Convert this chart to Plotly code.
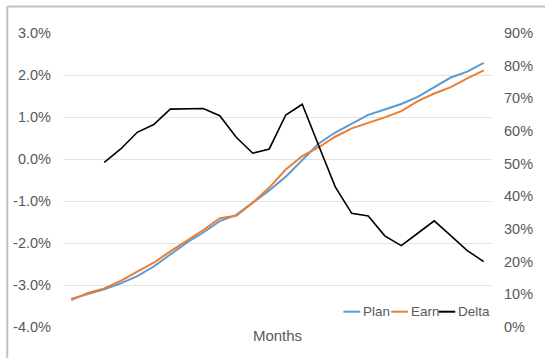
import plotly.graph_objects as go

# Monthly series: Plan and Earn on the left axis (%), Delta on the right axis (%)
months = list(range(1, 27))
plan = [-3.33, -3.21, -3.10, -2.96, -2.79, -2.56, -2.28, -1.99, -1.75, -1.48,
        -1.33, -1.04, -0.75, -0.42, -0.02, 0.37, 0.63, 0.83, 1.05, 1.18,
        1.31, 1.48, 1.71, 1.94, 2.08, 2.29]
earn = [-3.36, -3.19, -3.08, -2.90, -2.68, -2.47, -2.20, -1.95, -1.69, -1.41,
        -1.35, -1.04, -0.68, -0.25, 0.07, 0.28, 0.53, 0.73, 0.86, 0.99,
        1.14, 1.38, 1.56, 1.71, 1.92, 2.11]
delta = [None, None, 50.4, 54.5, 59.6, 62.0, 66.7, 66.7, 66.9, 64.7,
         58.1, 53.2, 54.5, 64.9, 68.2, 55.5, 42.9, 34.8, 34.0, 27.9,
         24.9, 28.7, 32.5, 28.0, 23.4, 20.0]

left_ticks = [-4, -3, -2, -1, 0, 1, 2, 3]
right_ticks = [0, 10, 20, 30, 40, 50, 60, 70, 80, 90]

series_names = ["Plan", "Earn", "Delta"]
series_colors = ["#5B9BD5", "#ED7D31", "#000000"]

W, H = 545, 358
L, R, T, B = 63, 47, 33, 31
pw, ph = W - L - R, H - T - B

def px_x(x):
    return (x - L) / pw

def px_y(y):
    return (H - B - y) / ph

fig = go.Figure()
fig.add_trace(go.Scatter(x=months, y=plan, name=series_names[0], mode="lines",
                         line=dict(color=series_colors[0], width=2)))
fig.add_trace(go.Scatter(x=months, y=earn, name=series_names[1], mode="lines",
                         line=dict(color=series_colors[1], width=2)))
fig.add_trace(go.Scatter(x=months, y=delta, name=series_names[2], mode="lines",
                         line=dict(color=series_colors[2], width=1.6),
                         yaxis="y2", connectgaps=False))

family = "Arial, Liberation Sans, sans-serif"
font = dict(family=family, size=13, color="#595959")
tick_font = dict(family=family, size=14.5, color="#595959")
title_font = dict(family=family, size=15, color="#595959")

# Legend drawn as short line keys with labels, bottom right of the plot
shapes = []
annotations = []
key_pos = [(347.3, 364.3, 365.0), (395.7, 412.7, 413.5), (444.0, 460.7, 461.8)]
ly = 311.7
for (x0, x1, tx), name, col in zip(key_pos, series_names, series_colors):
    shapes.append(dict(type="line", xref="paper", yref="paper",
                       x0=px_x(x0), x1=px_x(x1), y0=px_y(ly), y1=px_y(ly),
                       line=dict(color=col, width=2)))
    annotations.append(dict(text=name, xref="paper", yref="paper",
                            x=px_x(tx), y=px_y(ly), xanchor="left", yanchor="middle",
                            showarrow=False, font=dict(family=family, size=13.5,
                                                       color="#595959")))

# Outer chart border (left and top edges)
shapes.append(dict(type="line", xref="paper", yref="paper",
                   x0=px_x(6.5), x1=px_x(6.5), y0=px_y(6.5), y1=px_y(400),
                   line=dict(color="#BFBFBF", width=2)))
shapes.append(dict(type="line", xref="paper", yref="paper",
                   x0=px_x(6.5), x1=px_x(600), y0=px_y(6.5), y1=px_y(6.5),
                   line=dict(color="#BFBFBF", width=2)))

fig.update_layout(
    width=W, height=H,
    margin=dict(l=L, r=R, t=T, b=B),
    paper_bgcolor="white", plot_bgcolor="white",
    showlegend=False,
    font=font,
    xaxis=dict(range=[0.5, 26.5], showticklabels=False, showgrid=False,
               zeroline=False, showline=False, ticks="",
               title=dict(text="Months", font=title_font, standoff=3)),
    yaxis=dict(range=[-4, 3], tickvals=left_ticks,
               ticktext=[f"{v:.1f}%" for v in left_ticks],
               showgrid=True, gridcolor="#E3E3E3", gridwidth=1,
               zeroline=False, showline=False, ticks="",
               ticklabelstandoff=11, tickfont=tick_font),
    yaxis2=dict(range=[0, 90], tickvals=right_ticks,
                ticktext=[f"{v}%" for v in right_ticks],
                overlaying="y", side="right", showgrid=False,
                zeroline=False, showline=False, ticks="",
                ticklabelstandoff=11, tickfont=tick_font),
    shapes=shapes,
    annotations=annotations,
)

fig.write_html("out.html")
